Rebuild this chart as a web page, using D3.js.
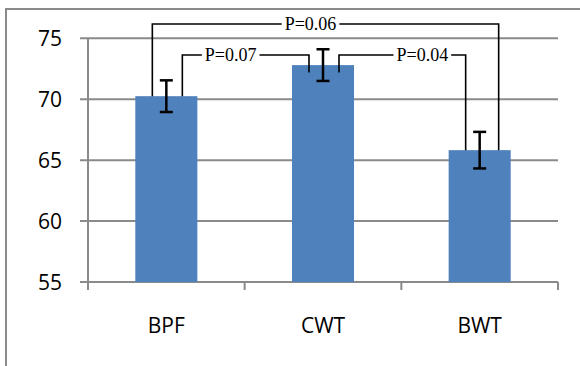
<!DOCTYPE html>
<html>
<head>
<meta charset="utf-8">
<script src="https://d3js.org/d3.v7.min.js"></script>
<style>
  body { margin: 0; background: #fff; }
</style>
</head>
<body>
<div id="chart"></div>
<script>
var w = 580,
	h = 366;

//Data
var categories = ["BPF", "CWT", "BWT"];
var means = [70.25, 72.8, 65.82];
var errors = [1.3, 1.3, 1.5];
var yTicks = [55, 60, 65, 70, 75];

//Significance brackets: from bar, to bar, label
var pairs = [
	{from: "BPF", to: "BWT", label: "P=0.06", outer: true},
	{from: "BPF", to: "CWT", label: "P=0.07", outer: false},
	{from: "CWT", to: "BWT", label: "P=0.04", outer: false}
];
//where the bracket legs stop on each bar
var legEnds = [70.25, 72.2, 65.82];

var plotL = 88, plotR = 558, plotT = 38.3, plotB = 282;

var svg = d3.select("#chart").append("svg")
	.attr("width", w)
	.attr("height", h);

//outer frame (only top/left visible in the crop)
svg.append("rect")
	.attr("x", 6)
	.attr("y", 9)
	.attr("width", 700)
	.attr("height", 500)
	.attr("fill", "none")
	.attr("stroke", "#8a8a8a")
	.attr("stroke-width", 2);

var x = d3.scaleBand()
	.domain(categories)
	.range([plotL, plotR])
	.paddingInner(0.604)
	.paddingOuter(0.302);

var y = d3.scaleLinear()
	.domain([55, 75])
	.range([plotB, plotT]);

//gridlines + y ticks
svg.selectAll(".grid")
	.data(yTicks)
	.enter()
	.append("line")
	.attr("class", "grid")
	.attr("x1", plotL - 8)
	.attr("x2", plotR)
	.attr("y1", function(d){ return y(d); })
	.attr("y2", function(d){ return y(d); })
	.attr("stroke", "#8a8a8a")
	.attr("stroke-width", 2);

svg.selectAll(".ylab")
	.data(yTicks)
	.enter()
	.append("text")
	.attr("class", "ylab")
	.attr("x", 62)
	.attr("y", function(d){ return y(d); })
	.attr("dy", "0.36em")
	.attr("text-anchor", "end")
	.attr("font-family", "'Open Sans', sans-serif")
	.attr("font-size", "21px")
	.attr("fill", "#000")
	.text(function(d){ return d; });

//y axis line
svg.append("line")
	.attr("x1", plotL).attr("x2", plotL)
	.attr("y1", plotT).attr("y2", plotB + 8)
	.attr("stroke", "#8a8a8a")
	.attr("stroke-width", 2);

//category boundary ticks
var bounds = d3.range(categories.length + 1).map(function(i){ return plotL + i * (plotR - plotL) / categories.length; });
svg.selectAll(".xtick")
	.data(bounds.slice(1))
	.enter()
	.append("line")
	.attr("class", "xtick")
	.attr("x1", function(d){ return d; })
	.attr("x2", function(d){ return d; })
	.attr("y1", plotB)
	.attr("y2", plotB + 8)
	.attr("stroke", "#8a8a8a")
	.attr("stroke-width", 2);

//bars
svg.selectAll(".bar")
	.data(means)
	.enter()
	.append("rect")
	.attr("class", "bar")
	.attr("x", function(d, i){ return x(categories[i]); })
	.attr("y", function(d){ return y(d); })
	.attr("width", x.bandwidth())
	.attr("height", function(d){ return plotB - y(d); })
	.attr("fill", "#4f81bd");

//error bars
var eb = svg.selectAll(".err")
	.data(means)
	.enter()
	.append("g")
	.attr("class", "err")
	.attr("stroke", "#000")
	.attr("stroke-width", 2.5);
eb.append("line")
	.attr("x1", function(d, i){ return x(categories[i]) + x.bandwidth() / 2; })
	.attr("x2", function(d, i){ return x(categories[i]) + x.bandwidth() / 2; })
	.attr("y1", function(d, i){ return y(d + errors[i]); })
	.attr("y2", function(d, i){ return y(d - errors[i]); });
[1, -1].forEach(function(s){
	eb.append("line")
		.attr("x1", function(d, i){ return x(categories[i]) + x.bandwidth() / 2 - 6.5; })
		.attr("x2", function(d, i){ return x(categories[i]) + x.bandwidth() / 2 + 6.5; })
		.attr("y1", function(d, i){ return y(d + s * errors[i]); })
		.attr("y2", function(d, i){ return y(d + s * errors[i]); });
});

//x labels
svg.selectAll(".xlab")
	.data(categories)
	.enter()
	.append("text")
	.attr("class", "xlab")
	.attr("x", function(d){ return x(d) + x.bandwidth() / 2; })
	.attr("y", 333)
	.attr("text-anchor", "middle")
	.attr("font-family", "'Open Sans', sans-serif")
	.attr("font-size", "21px")
	.attr("fill", "#000")
	.text(function(d){ return d; });

//significance brackets
function center(c){ return x(c) + x.bandwidth() / 2; }
function legEnd(c){ return y(legEnds[categories.indexOf(c)]); }
var labelShift = [-15, -15, 20];
pairs.forEach(function(p, k){
	var x1 = center(p.from) + (p.outer ? -14 : 16),
		x2 = center(p.to) + (p.outer ? 19 : -14),
		ly = p.outer ? 24 : 55;
	var g = svg.append("g");
	g.append("path")
		.attr("d", "M" + x1 + "," + legEnd(p.from) + "V" + ly + "H" + x2 + "V" + legEnd(p.to))
		.attr("fill", "none")
		.attr("stroke", "#000")
		.attr("stroke-width", 1.6);
	var tx = (x1 + x2) / 2 + labelShift[k];
	var bg = g.append("rect").attr("fill", "#fff");
	var t = g.append("text")
		.attr("x", tx)
		.attr("y", ly)
		.attr("dy", "0.33em")
		.attr("text-anchor", "middle")
		.attr("font-family", "'Liberation Serif', 'Times New Roman', serif")
		.attr("font-size", "18px")
		.attr("fill", "#000")
		.text(p.label);
	var bb = t.node().getBBox();
	bg.attr("x", bb.x - 3).attr("y", ly - 6).attr("width", bb.width + 6).attr("height", 12);
});
</script>
</body>
</html>
